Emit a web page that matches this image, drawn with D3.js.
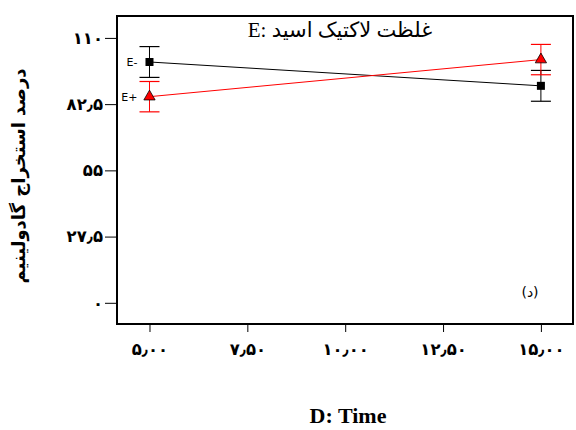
<!DOCTYPE html>
<html><head><meta charset="utf-8">
<script src="https://cdn.jsdelivr.net/npm/d3@7"></script>
<style>body{margin:0;background:#fff}</style>
</head><body>
<svg id="c" width="576" height="430"></svg>
<script>
// Data
const timeLevels = [5, 15];
const seriesNames = ["E-", "E+"];
const seriesColors = ["#000000", "#ff0000"];
const eMinusMeans = [100.0, 90.1];
const eMinusErr = [6.4, 6.4];
const ePlusMeans = [85.6, 101.0];
const ePlusErr = [6.3, 6.3];
const yTickValues = [0, 27.5, 55, 82.5, 110];
const yTickLabels = ["۰", "۲۷٫۵", "۵۵", "۸۲٫۵", "۱۱۰"];
const xTickValues = [5, 7.5, 10, 12.5, 15];
const xTickLabels = ["۵٫۰۰", "۷٫۵۰", "۱۰٫۰۰", "۱۲٫۵۰", "۱۵٫۰۰"];
const titleText = "E: غلظت لاکتیک اسید";
const yTitle = "درصد استخراج گادولینیم";
const xTitle = "D: Time";
const panelLabel = "(د)";

const svg = d3.select("#c");
const L = 117, R = 573, T = 16, B = 324;
const x = d3.scaleLinear().domain([4.17, 15.82]).range([L, R]);
const y = d3.scaleLinear().domain([-8.8, 119.1]).range([B, T]);

// Axes
const yAxis = d3.axisLeft(y).tickValues(yTickValues).tickFormat((d,i)=>yTickLabels[i]).tickSize(12).tickPadding(2);
const gy = svg.append("g").attr("transform", `translate(${L},0)`).call(yAxis);
gy.select(".domain").remove();
gy.selectAll("line").attr("stroke","#000").attr("stroke-width",1);
gy.selectAll("text").attr("font-family","DejaVu Sans").attr("font-weight","bold").attr("font-size",16.5).attr("fill","#000");

const xAxis = d3.axisBottom(x).tickValues(xTickValues).tickFormat((d,i)=>xTickLabels[i]).tickSize(8).tickPadding(11);
const gx = svg.append("g").attr("transform", `translate(0,${B})`).call(xAxis);
gx.select(".domain").remove();
gx.selectAll("line").attr("stroke","#000").attr("stroke-width",1);
gx.selectAll("text").attr("font-family","DejaVu Sans").attr("font-weight","bold").attr("font-size",16.5).attr("fill","#000");

// frame
svg.append("rect").attr("x",L).attr("y",T).attr("width",R-L).attr("height",B-T)
  .attr("fill","none").attr("stroke","#000").attr("stroke-width",2);

const series = [
  {name: seriesNames[0], color: seriesColors[0], m: eMinusMeans, e: eMinusErr, shape: "square"},
  {name: seriesNames[1], color: seriesColors[1], m: ePlusMeans, e: ePlusErr, shape: "triangle"}
];

const line = d3.line().x((d,i)=>x(timeLevels[i])).y(d=>y(d));
series.forEach(s=>{
  svg.append("path").datum(s.m).attr("d", line).attr("fill","none").attr("stroke", s.color).attr("stroke-width",1);
  s.m.forEach((v,i)=>{
    const cx = x(timeLevels[i]);
    const g = svg.append("g");
    g.append("line").attr("x1",cx).attr("x2",cx).attr("y1",y(v+s.e[i])).attr("y2",y(v-s.e[i])).attr("stroke",s.color).attr("stroke-width",1);
    [v+s.e[i], v-s.e[i]].forEach(c=>{
      g.append("line").attr("x1",cx-10).attr("x2",cx+10).attr("y1",y(c)).attr("y2",y(c)).attr("stroke",s.color).attr("stroke-width",1.2);
    });
    if (s.shape==="square") {
      g.append("rect").attr("x",cx-4).attr("y",y(v)-4).attr("width",8).attr("height",8).attr("fill","#000");
    } else {
      const sym = d3.symbol().type(d3.symbolTriangle).size(55);
      g.append("path").attr("d", sym()).attr("transform",`translate(${cx},${y(v)})`).attr("fill","#ff0000").attr("stroke","#000").attr("stroke-width",0.8);
    }
  });
  svg.append("text").attr("x", x(timeLevels[0]) - 12).attr("y", y(s.m[0]) + 4)
    .attr("text-anchor","end").attr("font-family","DejaVu Sans").attr("font-size",11).attr("fill","#000").text(s.name);
});

// title
svg.append("text").attr("x", 340).attr("y", 37).attr("text-anchor","middle").attr("direction","ltr")
  .attr("font-family","Liberation Serif, DejaVu Sans").attr("font-size",21).attr("fill","#000").text(titleText);

svg.append("text").attr("x", 530).attr("y", 297).attr("text-anchor","middle")
  .attr("font-family","DejaVu Sans").attr("font-size",14).attr("fill","#000").text(panelLabel);

// axis titles
svg.append("text").attr("transform","translate(25,176) rotate(-90)").attr("text-anchor","middle")
  .attr("font-family","DejaVu Sans").attr("font-weight","bold").attr("font-size",18).attr("fill","#000").text(yTitle);
svg.append("text").attr("x", 348).attr("y", 423).attr("text-anchor","middle")
  .attr("font-family","Liberation Serif").attr("font-weight","bold").attr("font-size",22).attr("fill","#000").text(xTitle);
</script>
</body></html>
